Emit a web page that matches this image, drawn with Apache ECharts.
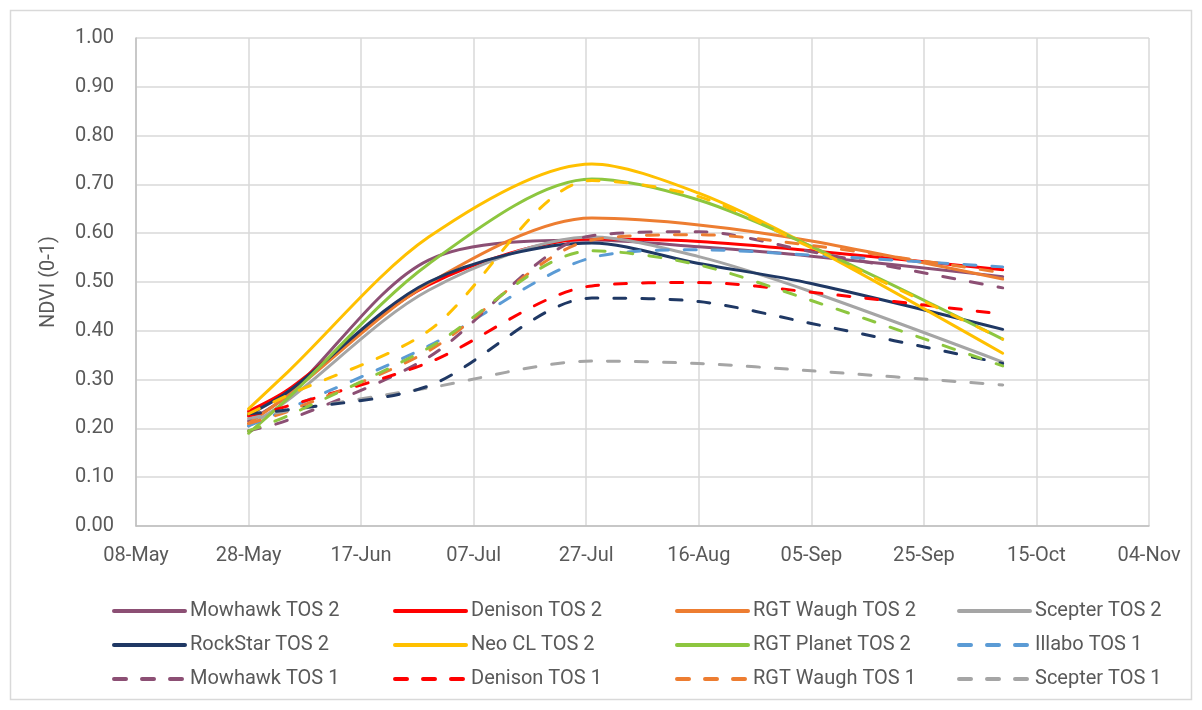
<!DOCTYPE html>
<html>
<head>
<meta charset="utf-8">
<script src="https://cdn.jsdelivr.net/npm/echarts@6/dist/echarts.min.js"></script>
<style>
  html, body { margin: 0; padding: 0; background: #ffffff; }
  #chart { width: 1202px; height: 710px; }
</style>
</head>
<body>
<div id="chart"></div>
<script>
// Observation days, counted from 08-May
const obsDays = [20, 27, 52, 81, 100, 120, 154];

// X tick labels, one per 20-day step from 08-May
const xTickLabels = ['08-May', '28-May', '17-Jun', '07-Jul', '27-Jul', '16-Aug', '05-Sep', '25-Sep', '15-Oct', '04-Nov'];

// NDVI values per variety and time of sowing
const mowhawkTos2  = [0.215, 0.268, 0.545, 0.586, 0.572, 0.553, 0.511];
const denisonTos2  = [0.235, 0.279, 0.494, 0.588, 0.583, 0.564, 0.525];
const waughTos2    = [0.210, 0.268, 0.497, 0.631, 0.617, 0.584, 0.506];
const scepterTos2  = [0.205, 0.258, 0.483, 0.592, 0.552, 0.480, 0.336];
const rockstarTos2 = [0.228, 0.275, 0.500, 0.580, 0.538, 0.497, 0.403];
const neoClTos2    = [0.240, 0.316, 0.592, 0.742, 0.682, 0.572, 0.354];
const planetTos2   = [0.190, 0.262, 0.537, 0.711, 0.668, 0.573, 0.383];
const illaboTos1   = [0.205, 0.240, 0.369, 0.550, 0.566, 0.555, 0.531];
const mowhawkTos1  = [0.195, 0.217, 0.346, 0.595, 0.603, 0.562, 0.488];
const denisonTos1  = [0.225, 0.246, 0.335, 0.492, 0.499, 0.479, 0.434];
const waughTos1    = [0.210, 0.235, 0.359, 0.586, 0.597, 0.575, 0.519];
const scepterTos1  = [0.220, 0.236, 0.283, 0.338, 0.333, 0.318, 0.289];
const rockstarTos1 = [0.230, 0.238, 0.287, 0.467, 0.460, 0.415, 0.333];
const neoClTos1    = [0.230, 0.268, 0.400, 0.708, 0.675, 0.570, 0.383];
const planetTos1   = [0.195, 0.226, 0.365, 0.564, 0.535, 0.462, 0.328];

const C = {
  purple: '#8C4F74', red: '#FF0000', orange: '#ED7D31', grey: '#A5A5A5',
  navy: '#1F3864', yellow: '#FFC000', green: '#8DC63F', blue: '#5B9BD5'
};

const seriesDefs = [
  ['Mowhawk TOS 2', mowhawkTos2, C.purple, false],
  ['Denison TOS 2', denisonTos2, C.red, false],
  ['RGT Waugh TOS 2', waughTos2, C.orange, false],
  ['Scepter TOS 2', scepterTos2, C.grey, false],
  ['RockStar TOS 2', rockstarTos2, C.navy, false],
  ['Neo CL TOS 2', neoClTos2, C.yellow, false],
  ['RGT Planet TOS 2', planetTos2, C.green, false],
  ['Illabo TOS 1', illaboTos1, C.blue, true],
  ['Mowhawk TOS 1', mowhawkTos1, C.purple, true],
  ['Denison TOS 1', denisonTos1, C.red, true],
  ['RGT Waugh TOS 1', waughTos1, C.orange, true],
  ['Scepter TOS 1', scepterTos1, C.grey, true],
  ['RockStar TOS 1', rockstarTos1, C.navy, true],
  ['Neo CL TOS 1', neoClTos1, C.yellow, true],
  ['RGT Planet TOS 1', planetTos1, C.green, true]
];

const FONT = 'Roboto';
const TEXT = '#595959';

const series = seriesDefs.map(([name, vals, color, dashed]) => ({
  name: name,
  type: 'line',
  smooth: 0.3,
  symbol: 'none',
  color: color,
  lineStyle: {
    color: color,
    width: 3,
    type: dashed ? [12, 16] : 'solid',
    cap: 'round'
  },
  data: obsDays.map((d, i) => [d, vals[i]])
}));

// Legend laid out as four columns of three entries
const legendCols = [
  ['Mowhawk TOS 2', 'RockStar TOS 2', 'Mowhawk TOS 1'],
  ['Denison TOS 2', 'Neo CL TOS 2', 'Denison TOS 1'],
  ['RGT Waugh TOS 2', 'RGT Planet TOS 2', 'RGT Waugh TOS 1'],
  ['Scepter TOS 2', 'Illabo TOS 1', 'Scepter TOS 1']
];
const legendLeft = [107, 388, 670, 952];

const legends = legendCols.map((names, i) => ({
  data: names,
  orient: 'vertical',
  left: legendLeft[i],
  top: 596,
  itemWidth: 71,
  itemHeight: 14,
  itemGap: 14,
  itemStyle: { color: 'rgba(0,0,0,0)', borderWidth: 0 },
  lineStyle: { width: 4 },
  textStyle: { fontFamily: FONT, fontSize: 20, color: TEXT, lineHeight: 20 }
}));

const chart = echarts.init(document.getElementById('chart'), null, { renderer: 'canvas' });
chart.setOption({
  animation: false,
  backgroundColor: '#ffffff',
  graphic: [{
    type: 'rect',
    shape: { x: 10.5, y: 10.5, width: 1181, height: 689 },
    style: { fill: 'none', stroke: '#D9D9D9', lineWidth: 1.5 },
    silent: true
  }],
  grid: { left: 136, right: 53, top: 38, bottom: 184 },
  legend: legends,
  xAxis: {
    type: 'value',
    min: 0,
    max: 180,
    interval: 20,
    axisLine: { show: true, lineStyle: { color: '#BFBFBF', width: 1.5 } },
    axisTick: { show: false },
    splitLine: { show: true, lineStyle: { color: '#D9D9D9', width: 1.5 } },
    axisLabel: {
      margin: 20,
      fontFamily: FONT, fontSize: 20, color: TEXT,
      formatter: v => xTickLabels[Math.round(v / 20)]
    }
  },
  yAxis: {
    type: 'value',
    min: 0,
    max: 1,
    interval: 0.1,
    name: 'NDVI (0-1)',
    nameLocation: 'middle',
    nameRotate: 90,
    nameGap: 77,
    nameTextStyle: { fontFamily: FONT, fontSize: 20, color: TEXT },
    axisLine: { show: true, lineStyle: { color: '#BFBFBF', width: 1.5 } },
    axisTick: { show: false },
    splitLine: { show: true, lineStyle: { color: '#D9D9D9', width: 1.5 } },
    axisLabel: {
      margin: 22,
      fontFamily: FONT, fontSize: 20, color: TEXT,
      formatter: v => v.toFixed(2)
    }
  },
  series: series
});
</script>
</body>
</html>
